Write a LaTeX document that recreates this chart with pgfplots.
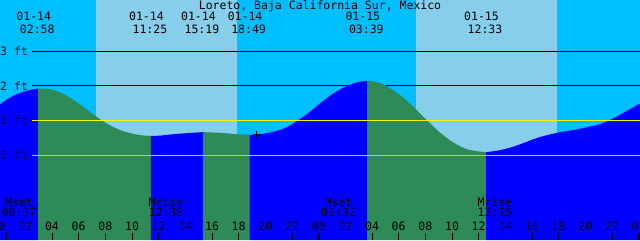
\documentclass[border=0pt]{standalone}
\usepackage{fontspec}
\setmainfont{DejaVu Sans Mono}
\usepackage{pgfplots}
\pgfplotsset{compat=1.18}
\definecolor{night}{HTML}{00BFFF}
\definecolor{day}{HTML}{87CEEB}
\definecolor{rise}{HTML}{0000FF}
\definecolor{fall}{HTML}{2E8B57}
\definecolor{zeroln}{HTML}{87CEEB}
\newcommand{\YB}{-2.453}
\newcommand{\YT}{4.473}
\begin{document}
\begin{tikzpicture}[font=\fontsize{11.5}{13}\selectfont]
\begin{axis}[
  width=640pt, height=240pt, scale only axis,
  xmin=0.1, xmax=48.1, ymin=-2.453, ymax=4.473,
  axis background/.style={fill=night},
  axis x line*=bottom, axis y line=none,
  x axis line style={draw=none},
  ytick=\empty,
  xtick={2,4,...,48},
  xticklabels={02,04,06,08,10,12,14,16,18,20,22,00,02,04,06,08,10,12,14,16,18,20,22,00},
  tick align=inside, major tick length=7pt, minor tick length=7pt,
  minor xtick={0.617,12.633,25.533,37.25},
  extra x ticks={24,48}, extra x tick labels={},
  extra x tick style={major tick style={line width=3pt}},
  tick style={black, line width=1pt},
  xticklabel style={anchor=base, yshift=10pt, inner sep=0pt, font=\fontsize{11.5}{13}\selectfont},
  axis on top, clip=false,
]
% day bands
\addplot[fill=day, draw=none] coordinates {(7.275,\YB) (7.275,\YT) (17.9,\YT) (17.9,\YB)} -- cycle;
\addplot[fill=day, draw=none] coordinates {(31.28,\YB) (31.28,\YT) (41.9,\YT) (41.9,\YB)} -- cycle;
% datum lines behind
\addplot[black, line width=1pt] coordinates {(2.5,3) (48.1,3)};
\addplot[black, line width=1pt] coordinates {(2.5,2) (48.1,2)};
% tide segments
\addplot[fill=rise, draw=none, smooth] coordinates {(0.1,1.46) (0.6,1.60) (1.1,1.71) (1.6,1.79) (2.1,1.85) (2.5,1.89) (2.967,1.92)} -- (axis cs:2.967,\YB) -- (axis cs:0.1,\YB) -- cycle;
\addplot[fill=fall, draw=none, smooth] coordinates {(2.967,1.92) (3.5,1.91) (4.1,1.88) (5.1,1.71) (6.1,1.46) (7.1,1.17) (8.1,0.91) (9.1,0.72) (10.1,0.61) (10.8,0.565) (11.417,0.55)} -- (axis cs:11.417,\YB) -- (axis cs:2.967,\YB) -- cycle;
\addplot[fill=rise, draw=none, smooth] coordinates {(11.417,0.55) (12.1,0.56) (13.1,0.60) (14.1,0.63) (15.317,0.66)} -- (axis cs:15.317,\YB) -- (axis cs:11.417,\YB) -- cycle;
\addplot[fill=fall, draw=none, smooth] coordinates {(15.317,0.66) (16.6,0.64) (17.9,0.60) (18.817,0.58)} -- (axis cs:18.817,\YB) -- (axis cs:15.317,\YB) -- cycle;
\addplot[fill=rise, draw=none, smooth] coordinates {(18.817,0.58) (19.6,0.60) (20.6,0.67) (21.6,0.80) (22.6,1.04) (23.35,1.25) (24.1,1.49) (25.1,1.78) (26.1,1.99) (26.9,2.10) (27.65,2.14)} -- (axis cs:27.65,\YB) -- (axis cs:18.817,\YB) -- cycle;
\addplot[fill=fall, draw=none, smooth] coordinates {(27.65,2.14) (28.4,2.10) (29.1,1.99) (30.1,1.73) (31.1,1.39) (32.1,1.01) (33.1,0.65) (34.1,0.36) (35.1,0.17) (36.1,0.10) (36.55,0.08)} -- (axis cs:36.55,\YB) -- (axis cs:27.65,\YB) -- cycle;
\addplot[fill=rise, draw=none, smooth] coordinates {(36.55,0.08) (37.6,0.14) (38.6,0.24) (39.6,0.38) (40.6,0.52) (41.875,0.64) (43.1,0.72) (44.1,0.80) (45.1,0.89) (46.1,1.06) (47.1,1.27) (48.1,1.49)} -- (axis cs:48.1,\YB) -- (axis cs:36.55,\YB) -- cycle;
% datum lines on top
\addplot[yellow, line width=1pt] coordinates {(2.5,1) (48.1,1)};
\addplot[zeroln, line width=1pt] coordinates {(2.5,0) (48.1,0)};
% current time marker
\addplot[only marks, black, mark=+, mark size=3.5pt, mark options={line width=1pt}] coordinates {(19.35,0.58)};
% y labels
\node[anchor=west, inner sep=0pt] at (axis cs:0.1,3) {3 ft};
\node[anchor=west, inner sep=0pt] at (axis cs:0.1,2) {2 ft};
\node[anchor=west, inner sep=0pt] at (axis cs:0.1,1) {1 ft};
\node[anchor=west, inner sep=0pt] at (axis cs:0.1,0) {0 ft};
% title
\node[anchor=base, inner sep=0pt, yshift=-9.3pt] at (rel axis cs:0.5,1) {Loreto, Baja California Sur, Mexico};
% tide events
\foreach \h/\d/\t in {2.967/01-14/02:58, 11.417/01-14/11:25, 15.317/01-14/15:19, 18.817/01-14/18:49, 27.65/01-15/03:39, 36.55/01-15/12:33}{
  \edef\tmp{\noexpand\node[anchor=base, inner sep=0pt, yshift=-20.7pt, xshift=-4.5pt] at (axis cs:\h,\YT) {\d};
  \noexpand\node[anchor=base, inner sep=0pt, yshift=-33.3pt, xshift=-1pt] at (axis cs:\h,\YT) {\t};}
  \tmp
}
% moon events
\foreach \h/\n/\t in {1.525/Mset/00:37, 12.55/Mrise/12:38, 25.49/Mset/01:32, 37.225/Mrise/13:15}{
  \edef\tmp{\noexpand\node[anchor=base, inner sep=0pt, yshift=34pt] at (axis cs:\h,\YB) {\n};
  \noexpand\node[anchor=base, inner sep=0pt, yshift=23.3pt] at (axis cs:\h,\YB) {\t};}
  \tmp
}
\node[anchor=base, inner sep=0pt, yshift=10pt] at (axis cs:0,\YB) {00};
\end{axis}
\pgfresetboundingbox
\path[use as bounding box] (current axis.south west) rectangle (current axis.north east);
\end{tikzpicture}
\end{document}
